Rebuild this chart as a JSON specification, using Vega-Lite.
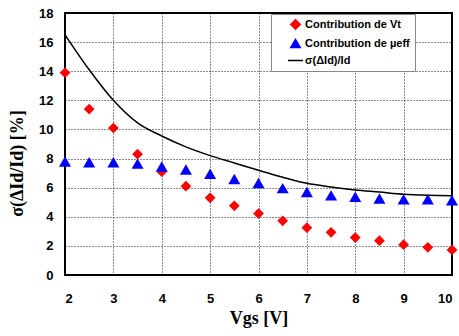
{
  "$schema": "https://vega.github.io/schema/vega-lite/v6.json",
  "width": 387,
  "height": 262,
  "autosize": "none",
  "padding": {"left": 65, "top": 13, "right": 7, "bottom": 61},
  "background": "white",
  "config": {
    "view": {"stroke": "black", "strokeWidth": 2},
    "axis": {
      "grid": true,
      "gridColor": "black",
      "gridDash": [1, 2],
      "gridWidth": 1,
      "gridOpacity": 0.9,
      "ticks": false,
      "domain": false,
      "labelFont": "Liberation Sans",
      "labelFontWeight": "bold",
      "labelFontSize": 13,
      "labelColor": "black",
      "titleFont": "Liberation Serif",
      "titleFontWeight": "bold",
      "titleFontSize": 18,
      "titleColor": "black"
    },
    "legend": {
      "labelFont": "Liberation Sans",
      "labelFontWeight": "bold",
      "labelFontSize": 11,
      "labelColor": "black"
    }
  },
  "data": {
    "values": [
      {"Vgs": 2, "value": 13.9, "series": "Contribution de Vt"},
      {"Vgs": 2.5, "value": 11.4, "series": "Contribution de Vt"},
      {"Vgs": 3, "value": 10.1, "series": "Contribution de Vt"},
      {"Vgs": 3.5, "value": 8.3, "series": "Contribution de Vt"},
      {"Vgs": 4, "value": 7.1, "series": "Contribution de Vt"},
      {"Vgs": 4.5, "value": 6.1, "series": "Contribution de Vt"},
      {"Vgs": 5, "value": 5.3, "series": "Contribution de Vt"},
      {"Vgs": 5.5, "value": 4.75, "series": "Contribution de Vt"},
      {"Vgs": 6, "value": 4.22, "series": "Contribution de Vt"},
      {"Vgs": 6.5, "value": 3.72, "series": "Contribution de Vt"},
      {"Vgs": 7, "value": 3.25, "series": "Contribution de Vt"},
      {"Vgs": 7.5, "value": 2.93, "series": "Contribution de Vt"},
      {"Vgs": 8, "value": 2.57, "series": "Contribution de Vt"},
      {"Vgs": 8.5, "value": 2.36, "series": "Contribution de Vt"},
      {"Vgs": 9, "value": 2.08, "series": "Contribution de Vt"},
      {"Vgs": 9.5, "value": 1.9, "series": "Contribution de Vt"},
      {"Vgs": 10, "value": 1.72, "series": "Contribution de Vt"},
      {"Vgs": 2, "value": 7.8, "series": "Contribution de µeff"},
      {"Vgs": 2.5, "value": 7.75, "series": "Contribution de µeff"},
      {"Vgs": 3, "value": 7.75, "series": "Contribution de µeff"},
      {"Vgs": 3.5, "value": 7.65, "series": "Contribution de µeff"},
      {"Vgs": 4, "value": 7.45, "series": "Contribution de µeff"},
      {"Vgs": 4.5, "value": 7.25, "series": "Contribution de µeff"},
      {"Vgs": 5, "value": 6.95, "series": "Contribution de µeff"},
      {"Vgs": 5.5, "value": 6.6, "series": "Contribution de µeff"},
      {"Vgs": 6, "value": 6.32, "series": "Contribution de µeff"},
      {"Vgs": 6.5, "value": 5.97, "series": "Contribution de µeff"},
      {"Vgs": 7, "value": 5.7, "series": "Contribution de µeff"},
      {"Vgs": 7.5, "value": 5.47, "series": "Contribution de µeff"},
      {"Vgs": 8, "value": 5.38, "series": "Contribution de µeff"},
      {"Vgs": 8.5, "value": 5.25, "series": "Contribution de µeff"},
      {"Vgs": 9, "value": 5.2, "series": "Contribution de µeff"},
      {"Vgs": 9.5, "value": 5.2, "series": "Contribution de µeff"},
      {"Vgs": 10, "value": 5.13, "series": "Contribution de µeff"},
      {"Vgs": 2, "value": 16.5, "series": "σ(ΔId)/Id"},
      {"Vgs": 2.5, "value": 14.1, "series": "σ(ΔId)/Id"},
      {"Vgs": 3, "value": 12.0, "series": "σ(ΔId)/Id"},
      {"Vgs": 3.5, "value": 10.45, "series": "σ(ΔId)/Id"},
      {"Vgs": 4, "value": 9.55, "series": "σ(ΔId)/Id"},
      {"Vgs": 4.5, "value": 8.8, "series": "σ(ΔId)/Id"},
      {"Vgs": 5, "value": 8.2, "series": "σ(ΔId)/Id"},
      {"Vgs": 5.5, "value": 7.7, "series": "σ(ΔId)/Id"},
      {"Vgs": 6, "value": 7.2, "series": "σ(ΔId)/Id"},
      {"Vgs": 6.5, "value": 6.72, "series": "σ(ΔId)/Id"},
      {"Vgs": 7, "value": 6.3, "series": "σ(ΔId)/Id"},
      {"Vgs": 7.5, "value": 6.05, "series": "σ(ΔId)/Id"},
      {"Vgs": 8, "value": 5.84, "series": "σ(ΔId)/Id"},
      {"Vgs": 8.5, "value": 5.7, "series": "σ(ΔId)/Id"},
      {"Vgs": 9, "value": 5.55, "series": "σ(ΔId)/Id"},
      {"Vgs": 9.5, "value": 5.48, "series": "σ(ΔId)/Id"},
      {"Vgs": 10, "value": 5.45, "series": "σ(ΔId)/Id"}
    ]
  },
  "encoding": {
    "x": {
      "field": "Vgs",
      "type": "quantitative",
      "scale": {"domain": [2, 10], "nice": false},
      "axis": {"values": [2, 3, 4, 5, 6, 7, 8, 9, 10], "title": "Vgs [V]", "labelPadding": 17, "titlePadding": 4}
    },
    "y": {
      "field": "value",
      "type": "quantitative",
      "scale": {"domain": [0, 18], "nice": false},
      "axis": {
        "values": [0, 2, 4, 6, 8, 10, 12, 14, 16, 18],
        "title": "σ(ΔId/Id) [%]",
        "labelPadding": 12,
        "titleX": -48,
        "titleY": 150,
        "titleAlign": "center",
        "titleBaseline": "middle",
        "titleAngle": -90
      }
    },
    "color": {
      "field": "series",
      "type": "nominal",
      "scale": {
        "domain": ["Contribution de Vt", "Contribution de µeff", "σ(ΔId)/Id"],
        "range": ["#ff0000", "#0000ff", "#000000"]
      },
      "legend": {
        "title": null,
        "orient": "none",
        "legendX": 206,
        "legendY": 1,
        "fillColor": "white",
        "strokeColor": "#888888",
        "padding": 5,
        "symbolOffset": 14,
        "rowPadding": 3,
        "labelOffset": 4,
        "encode": {
          "symbols": {
            "update": {
              "stroke": {"scale": "color", "field": "value"},
              "strokeWidth": {"value": 1.5},
              "size": {"signal": "datum.value === 'σ(ΔId)/Id' ? 220 : 90"}
            }
          }
        }
      }
    },
    "shape": {
      "field": "series",
      "type": "nominal",
      "scale": {
        "domain": ["Contribution de Vt", "Contribution de µeff", "σ(ΔId)/Id"],
        "range": ["diamond", "triangle-up", "stroke"]
      },
      "legend": null
    }
  },
  "layer": [
    {
      "transform": [{"filter": "datum.series === 'σ(ΔId)/Id'"}],
      "mark": {"type": "line", "interpolate": "monotone", "strokeWidth": 1.5},
      "encoding": {"shape": null}
    },
    {
      "transform": [{"filter": "datum.series !== 'σ(ΔId)/Id'"}],
      "mark": {"type": "point", "filled": true, "opacity": 1, "strokeWidth": 0},
      "encoding": {
        "size": {"condition": {"test": "datum.series === 'Contribution de Vt'", "value": 115}, "value": 145}
      }
    }
  ]
}
